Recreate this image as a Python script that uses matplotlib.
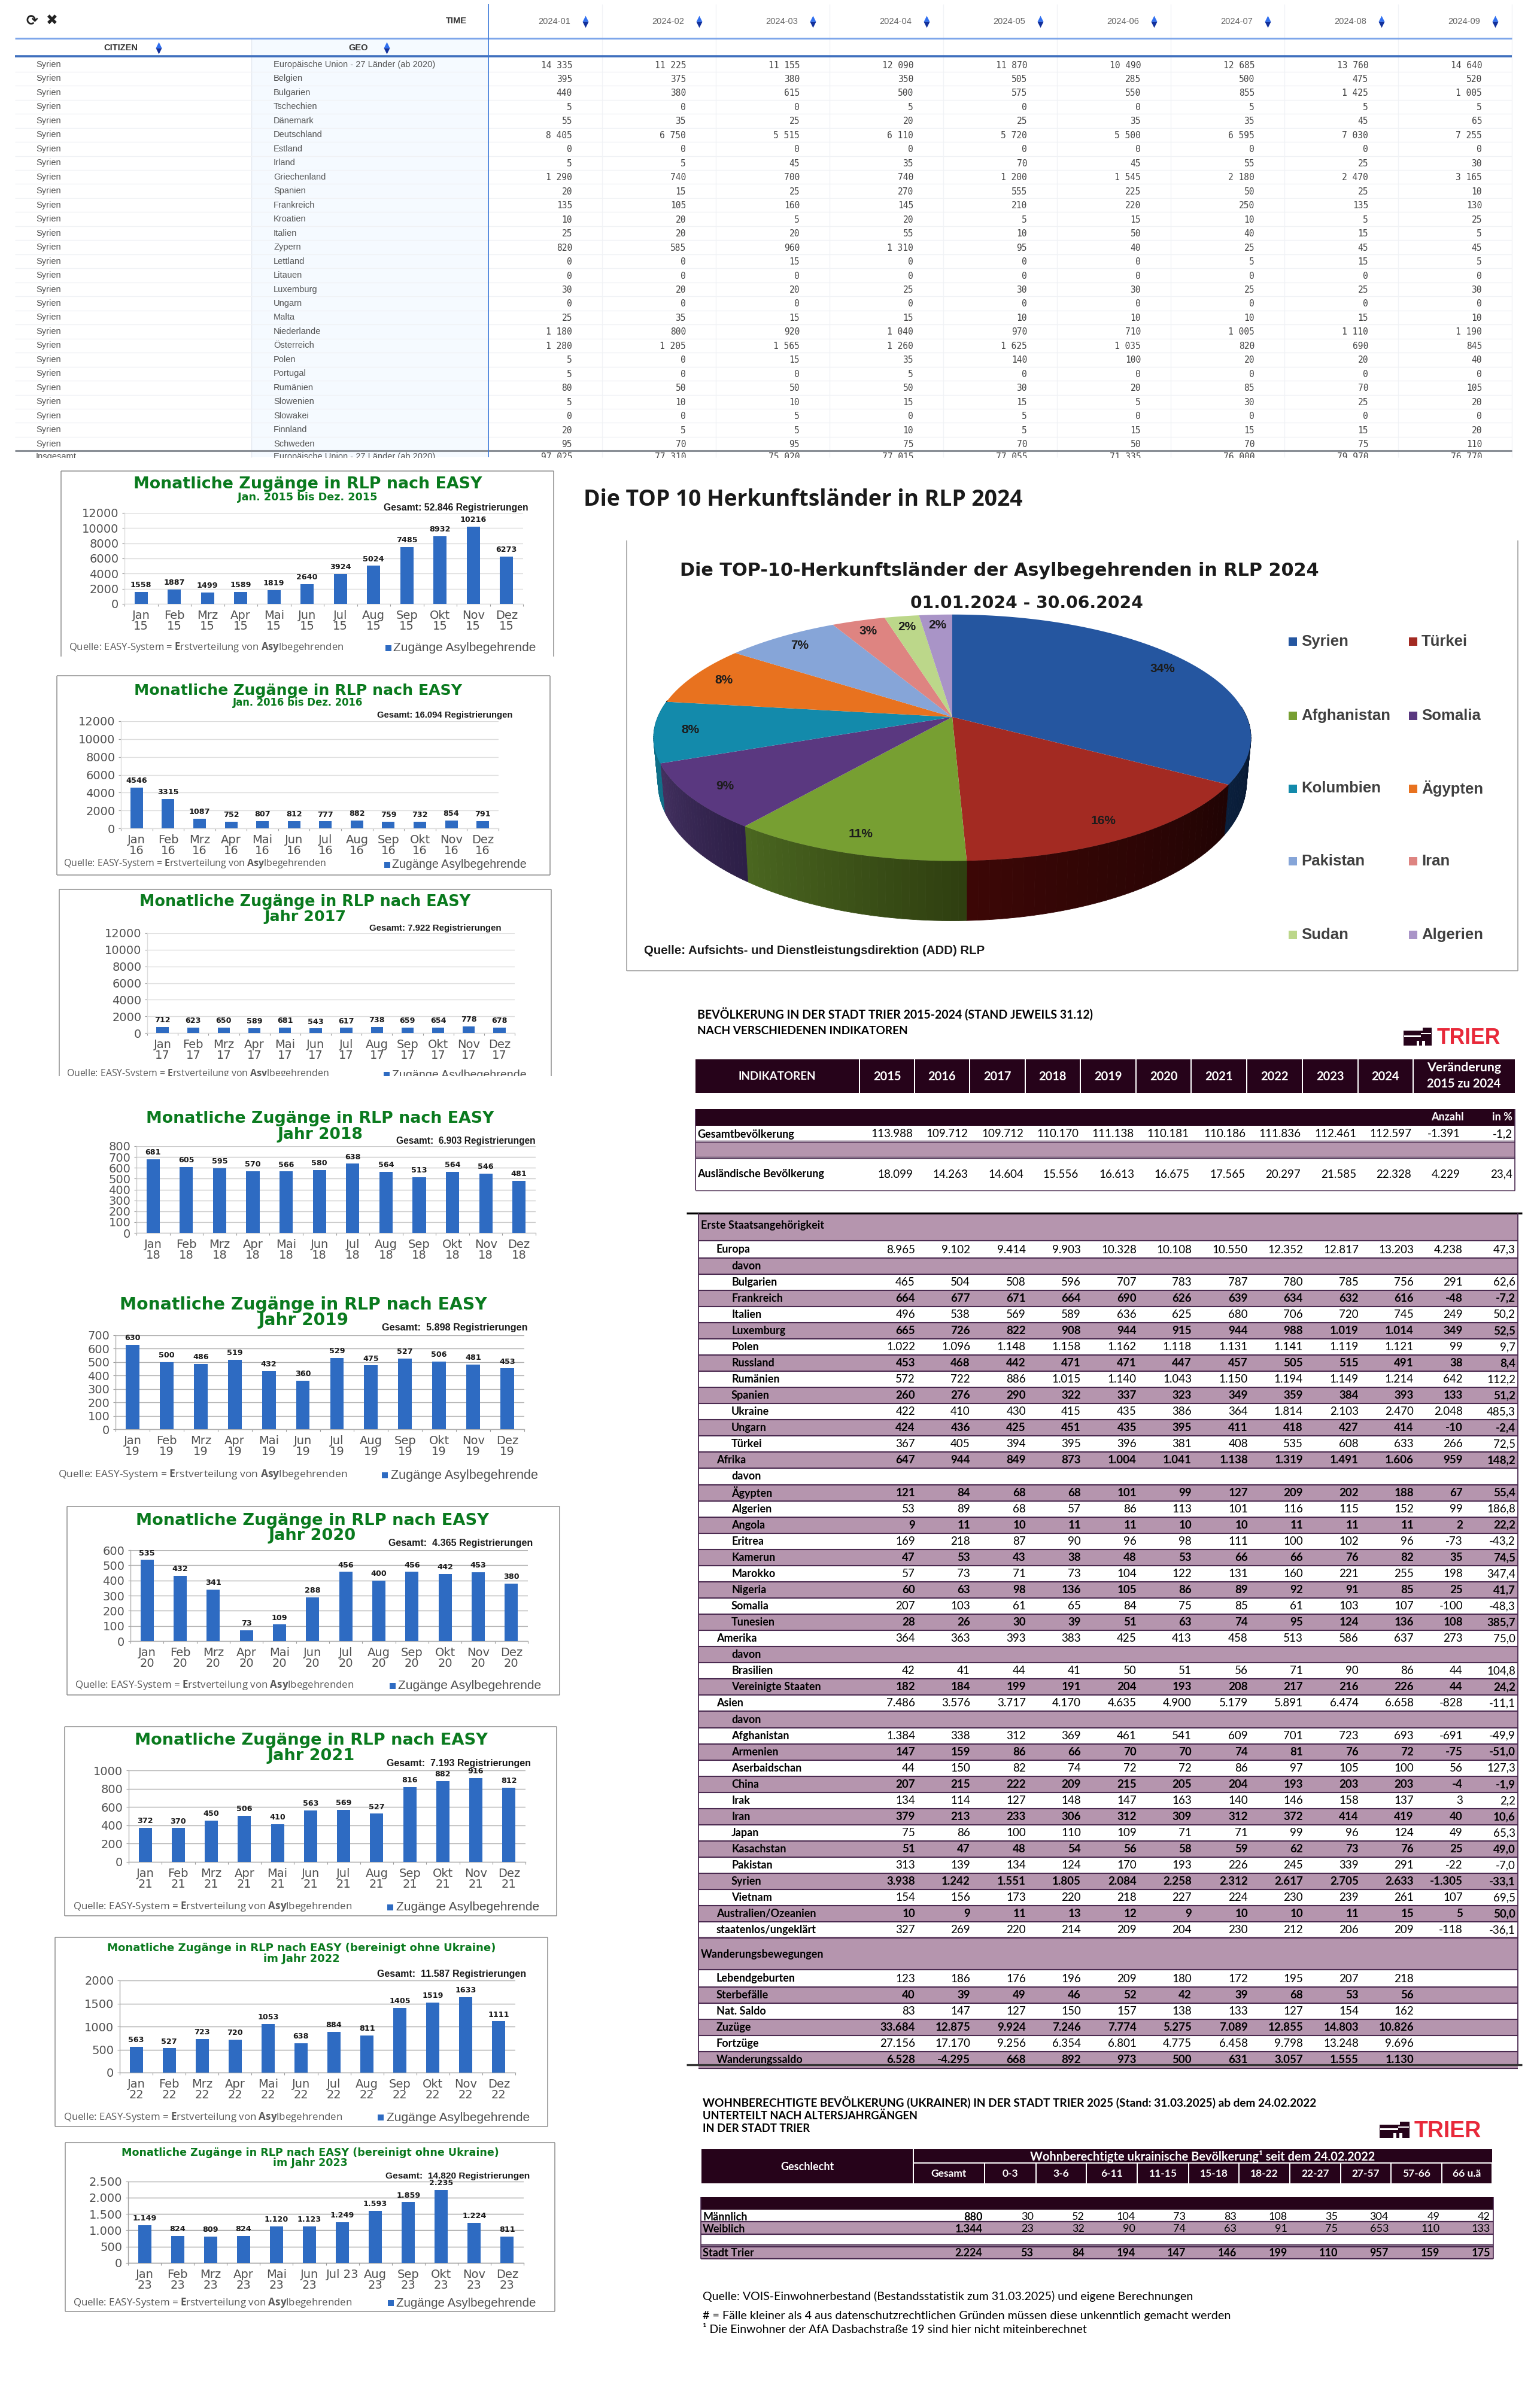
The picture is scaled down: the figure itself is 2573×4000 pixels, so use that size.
import numpy as np
import matplotlib
matplotlib.use('Agg')
import matplotlib.pyplot as plt
from matplotlib.patches import Rectangle

W, H = 2573, 4000
plt.rcParams['mathtext.fontset'] = 'custom'
plt.rcParams['mathtext.rm'] = 'Open Sans'
plt.rcParams['mathtext.bf'] = 'Open Sans:bold'

# ---------- Eurostat table ----------
time_cols = ['2024-01', '2024-02', '2024-03', '2024-04', '2024-05', '2024-06', '2024-07', '2024-08', '2024-09']
geo_names = ['Europäische Union - 27 Länder (ab 2020)', 'Belgien', 'Bulgarien', 'Tschechien', 'Dänemark',
             'Deutschland', 'Estland', 'Irland', 'Griechenland', 'Spanien', 'Frankreich', 'Kroatien', 'Italien',
             'Zypern', 'Lettland', 'Litauen', 'Luxemburg', 'Ungarn', 'Malta', 'Niederlande', 'Österreich', 'Polen',
             'Portugal', 'Rumänien', 'Slowenien', 'Slowakei', 'Finnland', 'Schweden']
geo_values = [
    [14335, 11225, 11155, 12090, 11870, 10490, 12685, 13760, 14640],
    [395, 375, 380, 350, 505, 285, 500, 475, 520],
    [440, 380, 615, 500, 575, 550, 855, 1425, 1005],
    [5, 0, 0, 5, 0, 0, 5, 5, 5],
    [55, 35, 25, 20, 25, 35, 35, 45, 65],
    [8405, 6750, 5515, 6110, 5720, 5500, 6595, 7030, 7255],
    [0, 0, 0, 0, 0, 0, 0, 0, 0],
    [5, 5, 45, 35, 70, 45, 55, 25, 30],
    [1290, 740, 700, 740, 1200, 1545, 2180, 2470, 3165],
    [20, 15, 25, 270, 555, 225, 50, 25, 10],
    [135, 105, 160, 145, 210, 220, 250, 135, 130],
    [10, 20, 5, 20, 5, 15, 10, 5, 25],
    [25, 20, 20, 55, 10, 50, 40, 15, 5],
    [820, 585, 960, 1310, 95, 40, 25, 45, 45],
    [0, 0, 15, 0, 0, 0, 5, 15, 5],
    [0, 0, 0, 0, 0, 0, 0, 0, 0],
    [30, 20, 20, 25, 30, 30, 25, 25, 30],
    [0, 0, 0, 0, 0, 0, 0, 0, 0],
    [25, 35, 15, 15, 10, 10, 10, 15, 10],
    [1180, 800, 920, 1040, 970, 710, 1005, 1110, 1190],
    [1280, 1205, 1565, 1260, 1625, 1035, 820, 690, 845],
    [5, 0, 15, 35, 140, 100, 20, 20, 40],
    [5, 0, 0, 5, 0, 0, 0, 0, 0],
    [80, 50, 50, 50, 30, 20, 85, 70, 105],
    [5, 10, 10, 15, 15, 5, 30, 25, 20],
    [0, 0, 5, 0, 5, 0, 0, 0, 0],
    [20, 5, 5, 10, 5, 15, 15, 15, 20],
    [95, 70, 95, 75, 70, 50, 70, 75, 110],
]
insgesamt_values = [97025, 77310, 75020, 77015, 77055, 71335, 76000, 79970, 76770]

# ---------- monthly bars ----------
months = ['Jan', 'Feb', 'Mrz', 'Apr', 'Mai', 'Jun', 'Jul', 'Aug', 'Sep', 'Okt', 'Nov', 'Dez']
easy_2015 = [1558, 1887, 1499, 1589, 1819, 2640, 3924, 5024, 7485, 8932, 10216, 6273]
easy_2016 = [4546, 3315, 1087, 752, 807, 812, 777, 882, 759, 732, 854, 791]
easy_2017 = [712, 623, 650, 589, 681, 543, 617, 738, 659, 654, 778, 678]
easy_2018 = [681, 605, 595, 570, 566, 580, 638, 564, 513, 564, 546, 481]
easy_2019 = [630, 500, 486, 519, 432, 360, 529, 475, 527, 506, 481, 453]
easy_2020 = [535, 432, 341, 73, 109, 288, 456, 400, 456, 442, 453, 380]
easy_2021 = [372, 370, 450, 506, 410, 563, 569, 527, 816, 882, 916, 812]
easy_2022 = [563, 527, 723, 720, 1053, 638, 884, 811, 1405, 1519, 1633, 1111]
easy_2023 = [1149, 824, 809, 824, 1120, 1123, 1249, 1593, 1859, 2235, 1224, 811]

# ---------- pie ----------
pie_names = ['Syrien', 'Türkei', 'Afghanistan', 'Somalia', 'Kolumbien', 'Ägypten', 'Pakistan', 'Iran', 'Sudan', 'Algerien']
pie_values = [33.6, 15.7, 11.1, 8.6, 8.0, 7.9, 7.3, 3.4, 2.2, 2.1]
pie_colors = ['#2556a0', '#a32a22', '#779f32', '#5a3880', '#138aab', '#e8721f', '#86a5d8', '#de8481', '#bcd78a', '#a994c7']

# ---------- Trier table ----------
trier_years = ['2015', '2016', '2017', '2018', '2019', '2020', '2021', '2022', '2023', '2024']
gesamt_row = '113.988 109.712 109.712 110.170 111.138 110.181 110.186 111.836 112.461 112.597 -1.391 -1,2'
auslaender_row = '18.099 14.263 14.604 15.556 16.613 16.675 17.565 20.297 21.585 22.328 4.229 23,4'
europa_rows = [
    (0, 'Europa', '8.965 9.102 9.414 9.903 10.328 10.108 10.550 12.352 12.817 13.203 4.238 47,3'),
    (1, 'davon', ''),
    (1, 'Bulgarien', '465 504 508 596 707 783 787 780 785 756 291 62,6'),
    (1, 'Frankreich', '664 677 671 664 690 626 639 634 632 616 -48 -7,2'),
    (1, 'Italien', '496 538 569 589 636 625 680 706 720 745 249 50,2'),
    (1, 'Luxemburg', '665 726 822 908 944 915 944 988 1.019 1.014 349 52,5'),
    (1, 'Polen', '1.022 1.096 1.148 1.158 1.162 1.118 1.131 1.141 1.119 1.121 99 9,7'),
    (1, 'Russland', '453 468 442 471 471 447 457 505 515 491 38 8,4'),
    (1, 'Rumänien', '572 722 886 1.015 1.140 1.043 1.150 1.194 1.149 1.214 642 112,2'),
    (1, 'Spanien', '260 276 290 322 337 323 349 359 384 393 133 51,2'),
    (1, 'Ukraine', '422 410 430 415 435 386 364 1.814 2.103 2.470 2.048 485,3'),
    (1, 'Ungarn', '424 436 425 451 435 395 411 418 427 414 -10 -2,4'),
    (1, 'Türkei', '367 405 394 395 396 381 408 535 608 633 266 72,5'),
]
afrika_rows = [
    (0, 'Afrika', '647 944 849 873 1.004 1.041 1.138 1.319 1.491 1.606 959 148,2'),
    (1, 'davon', ''),
    (1, 'Ägypten', '121 84 68 68 101 99 127 209 202 188 67 55,4'),
    (1, 'Algerien', '53 89 68 57 86 113 101 116 115 152 99 186,8'),
    (1, 'Angola', '9 11 10 11 11 10 10 11 11 11 2 22,2'),
    (1, 'Eritrea', '169 218 87 90 96 98 111 100 102 96 -73 -43,2'),
    (1, 'Kamerun', '47 53 43 38 48 53 66 66 76 82 35 74,5'),
    (1, 'Marokko', '57 73 71 73 104 122 131 160 221 255 198 347,4'),
    (1, 'Nigeria', '60 63 98 136 105 86 89 92 91 85 25 41,7'),
    (1, 'Somalia', '207 103 61 65 84 75 85 61 103 107 -100 -48,3'),
    (1, 'Tunesien', '28 26 30 39 51 63 74 95 124 136 108 385,7'),
]
amerika_rows = [
    (0, 'Amerika', '364 363 393 383 425 413 458 513 586 637 273 75,0'),
    (1, 'davon', ''),
    (1, 'Brasilien', '42 41 44 41 50 51 56 71 90 86 44 104,8'),
    (1, 'Vereinigte Staaten', '182 184 199 191 204 193 208 217 216 226 44 24,2'),
]
asien_rows = [
    (0, 'Asien', '7.486 3.576 3.717 4.170 4.635 4.900 5.179 5.891 6.474 6.658 -828 -11,1'),
    (1, 'davon', ''),
    (1, 'Afghanistan', '1.384 338 312 369 461 541 609 701 723 693 -691 -49,9'),
    (1, 'Armenien', '147 159 86 66 70 70 74 81 76 72 -75 -51,0'),
    (1, 'Aserbaidschan', '44 150 82 74 72 72 86 97 105 100 56 127,3'),
    (1, 'China', '207 215 222 209 215 205 204 193 203 203 -4 -1,9'),
    (1, 'Irak', '134 114 127 148 147 163 140 146 158 137 3 2,2'),
    (1, 'Iran', '379 213 233 306 312 309 312 372 414 419 40 10,6'),
    (1, 'Japan', '75 86 100 110 109 71 71 99 96 124 49 65,3'),
    (1, 'Kasachstan', '51 47 48 54 56 58 59 62 73 76 25 49,0'),
    (1, 'Pakistan', '313 139 134 124 170 193 226 245 339 291 -22 -7,0'),
    (1, 'Syrien', '3.938 1.242 1.551 1.805 2.084 2.258 2.312 2.617 2.705 2.633 -1.305 -33,1'),
    (1, 'Vietnam', '154 156 173 220 218 227 224 230 239 261 107 69,5'),
    (0, 'Australien/Ozeanien', '10 9 11 13 12 9 10 10 11 15 5 50,0'),
    (0, 'staatenlos/ungeklärt', '327 269 220 214 209 204 230 212 206 209 -118 -36,1'),
]
wanderung_rows = [
    (0, 'Lebendgeburten', '123 186 176 196 209 180 172 195 207 218'),
    (0, 'Sterbefälle', '40 39 49 46 52 42 39 68 53 56'),
    (0, 'Nat. Saldo', '83 147 127 150 157 138 133 127 154 162'),
    (0, 'Zuzüge', '33.684 12.875 9.924 7.246 7.774 5.275 7.089 12.855 14.803 10.826'),
    (0, 'Fortzüge', '27.156 17.170 9.256 6.354 6.801 4.775 6.458 9.798 13.248 9.696'),
    (0, 'Wanderungssaldo', '6.528 -4.295 668 892 973 500 631 3.057 1.555 1.130'),
]

# ---------- Ukrainer table ----------
ukr_cols = ['Gesamt', '0-3', '3-6', '6-11', '11-15', '15-18', '18-22', '22-27', '27-57', '57-66', '66 u.ä']
ukr_maennlich = ['880', '30', '52', '104', '73', '83', '108', '35', '304', '49', '42']
ukr_weiblich = ['1.344', '23', '32', '90', '74', '63', '91', '75', '653', '110', '133']
ukr_trier = ['2.224', '53', '84', '194', '147', '146', '199', '110', '957', '159', '175']

fig = plt.figure(figsize=(W / 100, H / 100), dpi=100, facecolor='white')
ov = fig.add_axes([0, 0, 1, 1])
ov.set_xlim(0, W)
ov.set_ylim(H, 0)
ov.axis('off')
rend = fig.canvas.get_renderer()

SANS = 'Liberation Sans'
WIDE = 'DejaVu Sans'
LATO = 'Lato'
DARK = '#26031a'
MAUVE = '#b595ae'
LINE = '#4a2a50'


def put(x, y, s, size=12, weight='normal', color='black', ha='left', va='center', family=SANS, width=None, z=6):
    t = ov.text(x, y, s, fontsize=size, fontweight=weight, color=color, ha=ha, va=va, family=family, zorder=z)
    if width:
        w = t.get_window_extent(rend).width
        t.set_fontsize(size * width / w)
    return t


def box(x0, y0, x1, y1, color, z=1):
    ov.add_patch(Rectangle((x0, y0), x1 - x0, y1 - y0, facecolor=color, edgecolor='none', zorder=z))


def hline(x0, x1, y, color, lw=1.0, z=2):
    ov.plot([x0, x1], [y, y], color=color, lw=lw, zorder=z, solid_capstyle='butt')


def vline(x, y0, y1, color, lw=1.0, z=2):
    ov.plot([x, x], [y0, y1], color=color, lw=lw, zorder=z, solid_capstyle='butt')


def spin(x, y):
    ov.plot([x], [y - 5], marker='^', ms=6.5, color='#2f6ff0', mec='none', zorder=6)
    ov.plot([x], [y + 5], marker='v', ms=6.5, color='#12309b', mec='none', zorder=6)


def logo(x0, y0, x1, y1, tx, ty, tw):
    w = x1 - x0
    h = y1 - y0
    box(x0, y0 + 0.18 * h, x1, y1, DARK, 3)
    box(x0 + 0.68 * w, y0, x1, y1, DARK, 3)
    box(x0 + 0.02 * w, y0 + 0.42 * h, x0 + 0.62 * w, y0 + 0.52 * h, 'white', 4)
    box(x0 + 0.62 * w, y0 + 0.30 * h, x1 - 0.03 * w, y0 + 0.38 * h, 'white', 4)
    box(x0 + 0.46 * w, y0 + 0.72 * h, x0 + 0.56 * w, y1, 'white', 4)
    box(x0 + 0.66 * w, y0 + 0.72 * h, x0 + 0.76 * w, y1, 'white', 4)
    put(tx, ty, 'TRIER', 21, 'bold', '#e8293a', family=SANS, width=tw)


# ---------- Eurostat table ----------
col_edges = [816 + 190 * i for i in range(10)]
row_ys = [108 + 23.47 * i for i in range(len(geo_names))]
box(420, 64, 816, 764, '#f5faff')
for x in col_edges[1:]:
    vline(x, 7, 764, '#f1f3f6', 1)
vline(420, 64, 764, '#e4e9f0', 1)
for y in row_ys:
    hline(25, 2526, y + 11.7, '#f0f2f5', 1)
hline(25, 2526, 64, '#7ea6ea', 2.2)
hline(25, 2526, 94, '#3f6fbe', 2.6)
hline(25, 2526, 753, '#8a8f96', 2.2)
vline(816, 7, 764, '#3a78d8', 1.2, 3)
put(780, 35, 'TIME', 10.5, 'bold', '#333333', ha='right')
put(173, 80, 'CITIZEN', 10.5, 'bold', '#333333')
spin(265, 80)
put(582, 80, 'GEO', 10.5, 'bold', '#333333')
spin(646, 80)
put(53, 35, '⟳', 17, 'bold', '#222222', ha='center', family='DejaVu Sans')
put(87, 35, '✖', 17, 'bold', '#222222', ha='center', family='DejaVu Sans')
for i, c in enumerate(time_cols):
    put(col_edges[i] + 137, 36, c, 10.5, color='#666666', ha='right')
    spin(col_edges[i] + 162, 36)
for y, name, vals in zip(row_ys, geo_names, geo_values):
    put(60, y, 'Syrien', 10.5, color='#555555')
    put(457, y, name, 10.5, color='#555555')
    for i, v in enumerate(vals):
        put(col_edges[i] + 140, y + 1, f'{v:,}'.replace(',', ' '), 10.5, color='#444444', ha='right',
            family='DejaVu Sans Mono')
put(60, 763, 'Insgesamt', 10.5, color='#555555')
put(457, 763, geo_names[0], 10.5, color='#555555')
for i, v in enumerate(insgesamt_values):
    put(col_edges[i] + 140, 763, f'{v:,}'.replace(',', ' '), 10.5, color='#444444', ha='right',
        family='DejaVu Sans Mono')
box(0, 765, W, 785, 'white', 7)

# ---------- EASY bar charts ----------
charts = [
    dict(vals=easy_2015, yy='15', title=['Monatliche Zugänge in RLP nach EASY', 'Jan. 2015 bis Dez. 2015'], ymax=12000, step=2000,
         total='Gesamt: 52.846 Registrierungen', plot=(208, 857, 874, 1009), tx=514, ty=(809, 831), tw=(585, 232), tsize=(18, 11),
         gx=(641, 883), gy=848, src=(115, 1082, 460), leg=(648, 657, 240, 1083), frame=(102, 786.5, 925, 1097), sides_only=True, grid='#dcdcdc'),
    dict(vals=easy_2016, yy='16', title=['Monatliche Zugänge in RLP nach EASY', 'Jan. 2016 bis Dez. 2016'], ymax=12000, step=2000,
         total='Gesamt: 16.094 Registrierungen', plot=(202, 1205, 833, 1384), tx=498, ty=(1154, 1174), tw=(550, 218), tsize=(18, 11),
         gx=(630, 858), gy=1195, src=(106, 1443, 440), leg=(646, 655, 225, 1445), frame=(95, 1129, 919, 1462), grid='#dcdcdc'),
    dict(vals=easy_2017, yy='17', title=['Monatliche Zugänge in RLP nach EASY', 'Jahr 2017'], ymax=12000, step=2000,
         total='Gesamt: 7.922 Registrierungen', plot=(246, 1559, 860, 1726), tx=510, ty=(1507, 1532), tw=(555, 137), tsize=(18, 18),
         gx=(617, 839), gy=1551, src=(111, 1794, 440), leg=(645, 655, 225, 1796), frame=(99, 1486, 921, 1798), no_bottom=True, grid='#dcdcdc'),
    dict(vals=easy_2018, yy='18', title=['Monatliche Zugänge in RLP nach EASY', 'Jahr 2018'], ymax=800, step=100,
         total='Gesamt:  6.903 Registrierungen', plot=(228, 1915, 895, 2060), tx=535, ty=(1869, 1896), tw=(581, 143), tsize=(18, 18),
         gx=(662, 897), gy=1906, grid='#c8c8c8'),
    dict(vals=easy_2019, yy='19', title=['Monatliche Zugänge in RLP nach EASY', 'Jahr 2019'], ymax=700, step=100,
         total='Gesamt:  5.898 Registrierungen', plot=(193, 2231, 876, 2388), tx=507, ty=(2180, 2206), tw=(613, 151), tsize=(18, 18),
         gx=(638, 883), gy=2219, src=(97, 2464, 483), leg=(642, 653, 249, 2465), grid='#b0b0b0'),
    dict(vals=easy_2020, yy='20', title=['Monatliche Zugänge in RLP nach EASY', 'Jahr 2020'], ymax=600, step=100,
         total='Gesamt:  4.365 Registrierungen', plot=(218, 2590, 882, 2742), tx=522, ty=(2541, 2566), tw=(592, 147), tsize=(18, 18),
         gx=(649, 890), gy=2579, src=(125, 2816, 465), leg=(655, 665, 241, 2817), frame=(112, 2517, 935, 2832), grid='#b0b0b0'),
    dict(vals=easy_2021, yy='21', title=['Monatliche Zugänge in RLP nach EASY', 'Jahr 2021'], ymax=1000, step=200,
         total='Gesamt:  7.193 Registrierungen', plot=(215, 2958, 878, 3111), tx=520, ty=(2908, 2934), tw=(593, 147), tsize=(18, 18),
         gx=(646, 887), gy=2947, src=(122, 3186, 467), leg=(651, 662, 241, 3187), frame=(108, 2885, 930, 3201), grid='#b0b0b0'),
    dict(vals=easy_2022, yy='22', title=['Monatliche Zugänge in RLP nach EASY (bereinigt ohne Ukraine)', 'im Jahr 2022'], ymax=2000, step=500,
         total='Gesamt:  11.587 Registrierungen', plot=(200, 3309, 861, 3463), tx=504, ty=(3255, 3273), tw=(647, 128), tsize=(12, 12),
         gx=(630, 880), gy=3299, src=(106, 3537, 467), leg=(635, 646, 242, 3538), frame=(92, 3237, 915, 3553), grid='#a8a8a8'),
    dict(vals=easy_2023, yy='23', title=['Monatliche Zugänge in RLP nach EASY (bereinigt ohne Ukraine)', 'im Jahr 2023'], ymax=2500, step=500, dotted=True,
         total='Gesamt:  14.820 Registrierungen', plot=(214, 3644.5, 875, 3781), tx=518, ty=(3597, 3614), tw=(627, 124), tsize=(12, 12),
         gx=(644, 886), gy=3636, src=(122, 3847, 467), leg=(652, 662, 235, 3848), frame=(109, 3580, 927, 3862), grid='#a0a0a0'),
]


def dotted(v):
    return f'{v:,}'.replace(',', '.')


for c in charts:
    x0, y0, x1, y1 = c['plot']
    ax = fig.add_axes([x0 / W, 1 - y1 / H, (x1 - x0) / W, (y1 - y0) / H], zorder=3)
    ax.patch.set_visible(False)
    ax.bar(range(12), c['vals'], width=0.4, color='#2e6bc2', zorder=3)
    ax.set_xlim(-0.5, 11.5)
    ax.set_ylim(0, c['ymax'])
    ticks = np.arange(0, c['ymax'] + 1, c['step'])
    fmt = dotted if c.get('dotted') else str
    ax.set_yticks(ticks, [fmt(int(t)) for t in ticks])
    labs = [f'{m}\n{c["yy"]}' for m in months]
    if c['yy'] == '23':
        labs[6] = 'Jul 23'
    ax.set_xticks(range(12), labs, linespacing=0.95, va='top')
    ax.set_xticks(np.arange(-0.5, 12), minor=True)
    ax.tick_params(axis='x', which='major', length=0, labelsize=14, labelcolor='#505050', pad=7)
    ax.tick_params(axis='x', which='minor', length=3, width=0.8, color='#9a9a9a')
    ax.tick_params(axis='y', length=3, width=0.8, color='#9a9a9a', labelsize=14, labelcolor='#505050', pad=4)
    ax.grid(axis='y', color=c['grid'], lw=1.0, zorder=1)
    ax.set_axisbelow(True)
    for s in ['top', 'right']:
        ax.spines[s].set_visible(False)
    for s in ['left', 'bottom']:
        ax.spines[s].set_color(c['grid'])
        ax.spines[s].set_linewidth(1.0)
    for i, v in enumerate(c['vals']):
        ax.annotate(fmt(v), (i, v), xytext=(0, 3.5), textcoords='offset points', ha='center', va='bottom',
                    fontsize=9.2, fontweight='bold', color='#1a1a1a', family='DejaVu Sans', zorder=5)
    for yt, tt, tw, ts in zip(c['ty'], c['title'], c['tw'], c['tsize']):
        put(c['tx'], yt, tt, ts, 'bold', '#0a7a1e', ha='center', width=tw, family=WIDE)
    put(c['gx'][0], c['gy'], c['total'], 10, 'bold', '#1a1a1a', width=c['gx'][1] - c['gx'][0])
    if 'src' in c:
        sx, sy, sw = c['src']
        put(sx, sy, r'Quelle: EASY-System = $\mathbf{E}$rstverteilung von $\mathbf{Asy}$lbegehrenden', 11, color='#595959',
            family='Open Sans', width=sw)
        mx, tx, tw, ly = c['leg']
        box(mx - 4, ly - 5, mx + 6, ly + 5, '#2e6bc2', 4)
        put(tx, ly, 'Zugänge Asylbegehrende', 14, color='#505050', width=tw)
    if 'frame' in c:
        fx0, fy0, fx1, fy1 = c['frame']
        col = '#8e8e8e'
        vline(fx0, fy0, fy1, col, 1.1)
        vline(fx1, fy0, fy1, col, 1.1)
        hline(fx0, fx1, fy0, col, 1.1)
        if not c.get('sides_only') and not c.get('no_bottom'):
            hline(fx0, fx1, fy1, col, 1.1)
# the 2017 panel is cut off at its lower edge
box(95, 1798, 930, 1815, 'white', 7)

# ---------- pie chart ----------
put(975, 835, 'Die TOP 10 Herkunftsländer in RLP 2024', 24, 'bold', '#1a1a1a', family='Open Sans', width=736)
vline(1047, 903, 1622, '#9a9a9a', 1.1)
vline(2536, 903, 1622, '#9a9a9a', 1.1)
hline(1047, 2536, 1622, '#9a9a9a', 1.1)
put(1136, 954, 'Die TOP-10-Herkunftsländer der Asylbegehrenden in RLP 2024', 20, 'bold', '#1a1a1a', family=WIDE, width=1070)
put(1715, 1008, '01.01.2024 - 30.06.2024', 20, 'bold', '#1a1a1a', ha='center', family=WIDE, width=390)
put(1076, 1588, 'Quelle: Aufsichts- und Dienstleistungsdirektion (ADD) RLP', 12, 'bold', '#1a1a1a', width=566)

PX, PY, PA, PK, PM = 1591, 1198, 492, 200, 0.168


def pie_xy(theta, r=1.0):
    u = r * np.sin(theta)
    v = r * np.cos(theta)
    den = 1 + PM * v
    return PX + PA * u / den, PY - PK * v / den


def wall_xy(x, y):
    return PX + (x - PX) * 0.985, y + 100 - (1438 - y) * 0.123


wall_shades = [('#06132a', '#0a1f3c'), ('#200404', '#3c0706'), ('#2f3f10', '#4a6620'), ('#2d1f47', '#42305f'),
               ('#0f6f88', '#0f6f88'), ('#000000', '#000000'), ('#000000', '#000000'), ('#000000', '#000000'),
               ('#000000', '#000000'), ('#000000', '#000000')]
shares = np.array(pie_values) / sum(pie_values)
edges = np.concatenate([[0], np.cumsum(shares)]) * 2 * np.pi
front0, front1 = np.radians(85), np.radians(278)
for i, (a0, a1) in enumerate(zip(edges[:-1], edges[1:])):
    b0, b1 = max(a0, front0), min(a1, front1)
    if b1 > b0:
        grid = np.linspace(b0, b1, 31)
        c0 = np.array(matplotlib.colors.to_rgb(wall_shades[i][0]))
        c1 = np.array(matplotlib.colors.to_rgb(wall_shades[i][1]))
        for k in range(30):
            arc = np.linspace(grid[k], grid[k + 1], 3)
            xs, ys = pie_xy(arc)
            xb, yb = wall_xy(xs, ys)
            col = c0 + (c1 - c0) * (k / 29)
            ov.fill(np.r_[xs, xb[::-1]], np.r_[ys, yb[::-1]], color=col, lw=0.6, zorder=4)
    arc = np.linspace(a0, a1, 80)
    xs, ys = pie_xy(arc)
    ov.fill(np.r_[PX, xs], np.r_[PY, ys], color=pie_colors[i], lw=0, zorder=5)
    lx, ly = pie_xy((a0 + a1) / 2, 0.88)
    put(lx, ly, f'{round(pie_values[i])}%', 15, 'bold', '#1c1c1c', ha='center', z=7)
leg_rows = [1072, 1196, 1317.5, 1439, 1562]
leg_cols = [2160, 2361]
for i, (name, col) in enumerate(zip(pie_names, pie_colors)):
    lx = leg_cols[i % 2]
    ly = leg_rows[i // 2]
    box(lx - 7, ly - 7, lx + 7, ly + 7, col, 4)
    put(lx + 14, ly, name, 18.5, 'bold', '#404040')

# ---------- Trier table ----------
put(1165, 1695, 'BEVÖLKERUNG IN DER STADT TRIER 2015-2024 (STAND JEWEILS 31.12)', 13, 'bold', family=LATO, width=661)
put(1165, 1722, 'NACH VERSCHIEDENEN INDIKATOREN', 13, 'bold', family=LATO, width=353)
logo(2345, 1717, 2392, 1747, 2401, 1734, 107)

year_edges = [1437, 1529, 1621, 1714, 1806, 1899, 1991, 2084, 2177, 2270, 2362, 2531]
box(1162, 1770, 1435, 1826, DARK)
for a, b, yr in zip(year_edges[:-2], year_edges[1:-1], trier_years):
    box(a, 1770, b - 2, 1826, DARK)
    put((a + b) / 2 - 1, 1799, yr, 14.5, 'bold', 'white', ha='center', family=LATO)
box(2362, 1770, 2531, 1826, DARK)
put(1298, 1799, 'INDIKATOREN', 14, 'bold', 'white', ha='center', family=LATO, width=130)
put(2446, 1784, 'Veränderung', 13.5, 'bold', 'white', ha='center', family=LATO, width=124)
put(2446, 1811, '2015 zu 2024', 13.5, 'bold', 'white', ha='center', family=LATO, width=124)

box(1162, 1853, 2531, 1881, DARK)
put(2446, 1867, 'Anzahl', 13, 'bold', 'white', ha='right', family=LATO)
put(2527, 1867, 'in %', 13, 'bold', 'white', ha='right', family=LATO)
box(1162, 1908, 2531, 1933, MAUVE)
for x in [1162, 2531]:
    vline(x, 1853, 1989, LINE, 1.2)
for y in [1906, 1908, 1933, 1935, 1989]:
    hline(1162, 2531, y, LINE, 1.0)
top_right = [1525, 1617, 1710, 1802, 1895, 1987, 2081, 2173, 2266, 2358, 2440, 2527]
for y, name, row in [(1895, 'Gesamtbevölkerung', gesamt_row), (1962, 'Ausländische Bevölkerung', auslaender_row)]:
    put(1165, y, name, 13, 'bold', family=LATO)
    for x, v in zip(top_right, row.split()):
        put(x, y, v, 13.5, ha='right', family=LATO)

TL, TR = 1167, 2536
val_right = [1529, 1621, 1714, 1806, 1899, 1991, 2085, 2177, 2270, 2362, 2444, 2532]
hline(1147, 2543, 2027, '#000000', 2.4, 3)
box(TL, 2029, TR, 2073, MAUVE)
put(1171, 2047, 'Erste Staatsangehörigkeit', 13, 'bold', family=LATO)
hline(TL, TR, 2073, LINE, 1.5, 3)


def draw_rows(rows, y_start, step, shade_first):
    shade = shade_first
    y = y_start
    for indent, name, vals in rows:
        if shade:
            box(TL, y - step / 2, TR, y + step / 2, MAUVE)
        hline(TL, TR, y + step / 2, LINE, 1.5, 3)
        put(1222 if indent else 1197, y, name, 13, 'bold', family=LATO)
        for x, v in zip(val_right, vals.split()):
            put(x, y, v, 13.5, 'bold' if shade else 'normal', ha='right', family=LATO)
        shade = not shade
        y += step
    return y


y_next = draw_rows(europa_rows + afrika_rows + amerika_rows + asien_rows, 2088, 27.07, False)
box(TL, 3236, TR, 3291, MAUVE)
put(1171, 3265, 'Wanderungsbewegungen', 13, 'bold', family=LATO)
hline(TL, TR, 3291, LINE, 1.5, 3)
draw_rows(wanderung_rows, 3306, 27.2, False)
vline(TL, 2027, 3450, LINE, 1.3, 3)
vline(TR, 2027, 3450, LINE, 1.3, 3)
hline(1147, 2543, 3450, '#333333', 2.4, 3)

# ---------- Ukrainer table ----------
put(1174, 3513, 'WOHNBERECHTIGTE BEVÖLKERUNG (UKRAINER) IN DER STADT TRIER 2025 (Stand: 31.03.2025) ab dem 24.02.2022', 13, 'bold',
    family=LATO, width=1022)
put(1174, 3535, 'UNTERTEILT NACH ALTERSJAHRGÄNGEN', 13, 'bold', family=LATO, width=360)
put(1174, 3557, 'IN DER STADT TRIER', 13, 'bold', family=LATO, width=179)
logo(2305, 3545, 2355, 3572, 2363, 3561, 113)

ukr_edges = [1526, 1645, 1731, 1815, 1900, 1986, 2070, 2155, 2240, 2324, 2409, 2493]
box(1172, 3591, 1525, 3648, DARK)
box(1527, 3591, 2493, 3613, DARK)
put(1349, 3620, 'Geschlecht', 13, 'bold', 'white', ha='center', family=LATO)
put(2009, 3604, 'Wohnberechtigte ukrainische Bevölkerung¹ seit dem 24.02.2022', 13, 'bold', 'white', ha='center', family=LATO, width=575)
for a, b, lab in zip(ukr_edges[:-1], ukr_edges[1:], ukr_cols):
    box(a + 1, 3615, b - 1, 3648, DARK)
    put((a + b) / 2, 3632, lab, 12.5, 'bold', 'white', ha='center', family=LATO)
box(1171, 3671, 2495, 3692, DARK)
box(1171, 3713, 2495, 3733, MAUVE)
box(1171, 3755, 2495, 3774, MAUVE)
for y in [3712, 3733, 3751, 3754, 3774]:
    hline(1171, 2495, y, LINE, 1.6, 3)
vline(1171, 3671, 3774, LINE, 1.2, 3)
vline(2495, 3671, 3774, LINE, 1.2, 3)
ukr_right = [1641.5, 1726.6, 1811.7, 1897, 1981, 2066, 2151, 2235, 2320, 2405.6, 2490]
ukr_rows = [(3704, 'Männlich', ukr_maennlich, False), (3724, 'Weiblich', ukr_weiblich, False), (3764, 'Stadt Trier', ukr_trier, True)]
for y, name, vals, all_bold in ukr_rows:
    put(1174, y, name, 13, 'bold', family=LATO)
    for k, (x, v) in enumerate(zip(ukr_right, vals)):
        put(x, y, v, 13, 'bold' if (all_bold or k == 0) else 'normal', ha='right', family=LATO)

put(1174, 3837, 'Quelle: VOIS-Einwohnerbestand (Bestandsstatistik zum 31.03.2025) und eigene Berechnungen', 13, family=LATO, width=818)
put(1174, 3869, '# = Fälle kleiner als 4 aus datenschutzrechtlichen Gründen müssen diese unkenntlich gemacht werden', 13, family=LATO, width=881)
put(1174, 3893, '¹ Die Einwohner der AfA Dasbachstraße 19 sind hier nicht miteinberechnet', 13, family=LATO, width=642)

fig.savefig('out.png', dpi=100, facecolor='white')
